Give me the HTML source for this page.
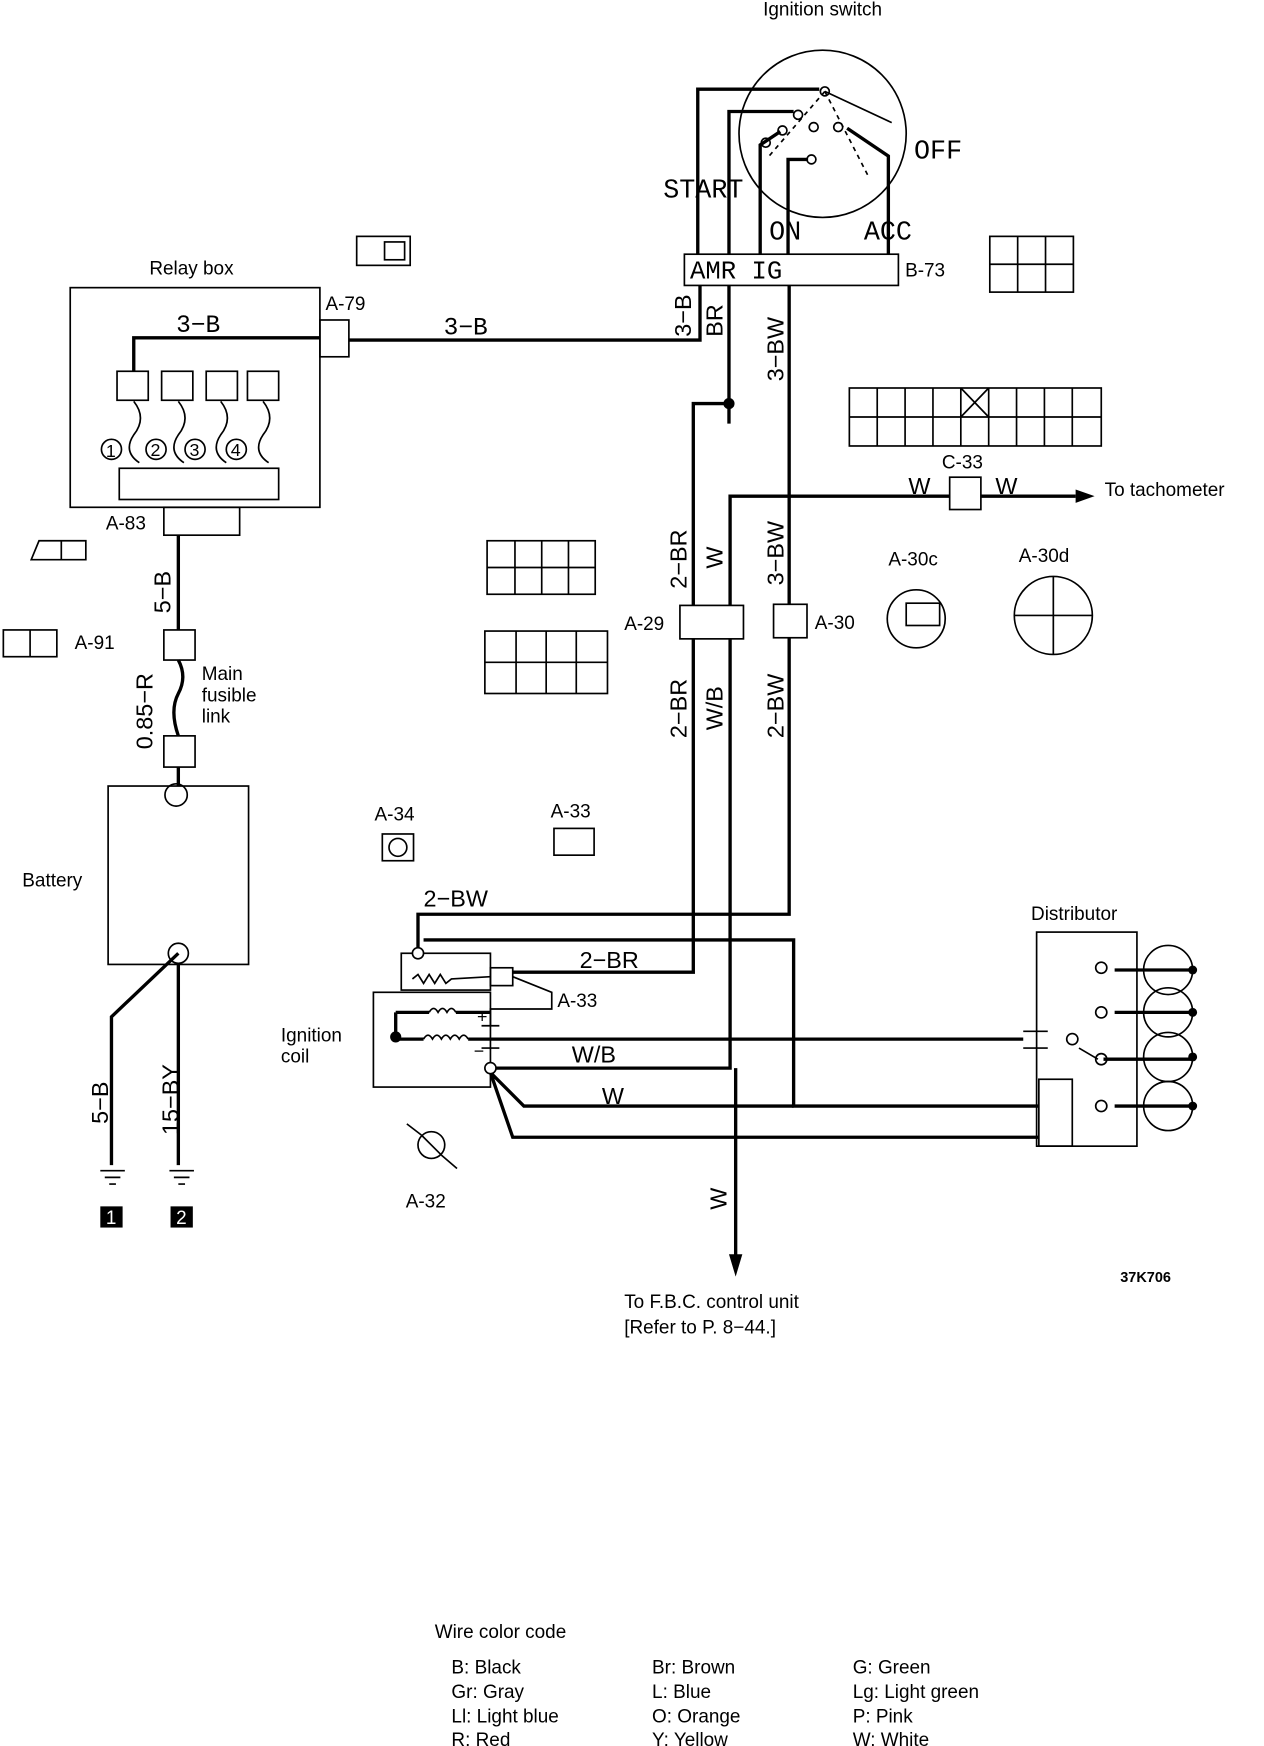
<!DOCTYPE html>
<html><head><meta charset="utf-8"><style>
html,body{margin:0;padding:0;background:#fff}
svg{display:block}
text{font-family:"Liberation Sans",sans-serif;fill:#000}
.m{font-family:"Liberation Mono",monospace}
</style></head><body>
<svg width="1264" height="1746" viewBox="0 0 1134 1566" preserveAspectRatio="none" xmlns="http://www.w3.org/2000/svg">
<g fill="none" stroke="#000" stroke-width="1.5">
<circle cx="738" cy="120" r="75"/>
<line x1="740" y1="82" x2="800" y2="110"/>
<line x1="740" y1="82" x2="780" y2="160" stroke-dasharray="4,4"/>
<line x1="740" y1="82" x2="690" y2="140" stroke-dasharray="4,4"/>
<circle cx="740" cy="82" r="4"/><circle cx="716" cy="103" r="4"/><circle cx="702" cy="117" r="4"/><circle cx="687" cy="128" r="4"/>
<circle cx="730" cy="114" r="4"/><circle cx="752" cy="114" r="4"/><circle cx="728" cy="143" r="4"/>
<rect x="614" y="228" width="192" height="28"/>
<rect x="888" y="212" width="75" height="50"/>
<line x1="913" y1="212" x2="913" y2="262"/><line x1="938" y1="212" x2="938" y2="262"/><line x1="888" y1="237" x2="963" y2="237"/>
<rect x="320" y="212" width="48" height="26"/><rect x="345" y="217" width="18" height="16"/>
<rect x="63" y="258" width="224" height="197"/>
<rect x="287" y="287" width="26" height="33"/>
<rect x="105" y="333" width="28" height="26"/><rect x="145" y="333" width="28" height="26"/><rect x="185" y="333" width="28" height="26"/><rect x="222" y="333" width="28" height="26"/>
<rect x="107" y="420" width="143" height="28"/>
<rect x="147" y="455" width="68" height="25"/>
<path d="M120 360 q12 15 0 30 q-10 15 5 25 M160 360 q12 15 0 30 q-10 15 5 25 M198 360 q12 15 0 30 q-10 15 5 25 M236 360 q12 15 0 30 q-10 15 5 25"/>
<circle cx="100" cy="403" r="9"/><circle cx="140" cy="403" r="9"/><circle cx="175" cy="403" r="9"/><circle cx="212" cy="403" r="9"/>
<path d="M28 502 L35 485 L77 485 L77 502 Z"/><line x1="55" y1="485" x2="55" y2="502"/>
<rect x="3" y="565" width="48" height="24"/><line x1="27" y1="565" x2="27" y2="589"/>
<rect x="147" y="565" width="28" height="27"/><rect x="147" y="660" width="28" height="28"/>
<path d="M160 592 q8 15 0 30 q-8 15 0 38" stroke-width="3"/>
<rect x="97" y="705" width="126" height="160"/>
<circle cx="158" cy="713" r="10"/><circle cx="160" cy="855" r="9"/>
<rect x="437" y="485" width="97" height="48"/><line x1="437" y1="509" x2="534" y2="509"/><line x1="462" y1="485" x2="462" y2="533"/><line x1="486" y1="485" x2="486" y2="533"/><line x1="510" y1="485" x2="510" y2="533"/>
<rect x="435" y="566" width="110" height="56"/><line x1="435" y1="594" x2="545" y2="594"/><line x1="463" y1="566" x2="463" y2="622"/><line x1="490" y1="566" x2="490" y2="622"/><line x1="517" y1="566" x2="517" y2="622"/>
<rect x="762" y="348" width="226" height="52"/><line x1="762" y1="374" x2="988" y2="374"/>
<line x1="787" y1="348" x2="787" y2="400"/><line x1="812" y1="348" x2="812" y2="400"/><line x1="837" y1="348" x2="837" y2="400"/><line x1="862" y1="348" x2="862" y2="400"/><line x1="887" y1="348" x2="887" y2="400"/><line x1="912" y1="348" x2="912" y2="400"/><line x1="937" y1="348" x2="937" y2="400"/><line x1="962" y1="348" x2="962" y2="400"/>
<line x1="862" y1="348" x2="887" y2="374"/><line x1="887" y1="348" x2="862" y2="374"/>
<circle cx="822" cy="555" r="26"/><rect x="813" y="541" width="30" height="20"/>
<circle cx="945" cy="552" r="35"/><line x1="910" y1="552" x2="980" y2="552"/><line x1="945" y1="517" x2="945" y2="587"/>
<rect x="343" y="748" width="28" height="24"/><circle cx="357" cy="760" r="8"/>
<rect x="497" y="743" width="36" height="24"/>
<circle cx="387" cy="1027" r="12"/><line x1="378" y1="1018" x2="396" y2="1036"/><line x1="365" y1="1008" x2="378" y2="1018"/><line x1="396" y1="1036" x2="410" y2="1048"/>
<rect x="335" y="890" width="105" height="85"/><rect x="360" y="855" width="80" height="33"/>
<rect x="440" y="868" width="20" height="16"/>
<path d="M370 878 l5 -4 l5 8 l5 -8 l5 8 l5 -8 l5 8 l5 -4 L440 876"/>
<path d="M385 908 q4 -7 8 0 q4 -7 8 0 q4 -7 8 0 M380 932 q4 -7 8 0 q4 -7 8 0 q4 -7 8 0 q4 -7 8 0 q4 -7 8 0"/>
<path d="M460 876 L495 890 L495 905 L440 905 L440 920"/>
<line x1="432" y1="920" x2="448" y2="920"/><line x1="432" y1="940" x2="448" y2="940"/>
<rect x="930" y="836" width="90" height="192"/>
<rect x="932" y="968" width="30" height="60"/>
<line x1="918" y1="925" x2="940" y2="925"/><line x1="918" y1="940" x2="940" y2="940"/>
<line x1="968" y1="940" x2="985" y2="950"/>
<circle cx="988" cy="868" r="5"/><circle cx="988" cy="908" r="5"/><circle cx="962" cy="932" r="5"/><circle cx="988" cy="950" r="5"/><circle cx="988" cy="992" r="5"/>
<circle cx="1048" cy="870" r="22"/><circle cx="1048" cy="908" r="22"/><circle cx="1048" cy="948" r="22"/><circle cx="1048" cy="992" r="22"/>
</g>
<g fill="none" stroke="#000" stroke-width="3">
<path d="M626 228 V80 H735"/><path d="M654 228 V100 H712"/><path d="M682 228 V130 L700 118"/><path d="M707 228 V143 H725"/><path d="M797 228 V140 L760 115"/>
<path d="M628 256 V305 H313"/><path d="M287 303 H120 V333"/>
<path d="M654 256 V380"/><path d="M654 362 H622 V543"/>
<path d="M708 256 V542"/><path d="M708 572 V820 H375 V850"/>
<path d="M655 543 V445 H852 M880 445 H965"/>
<rect x="852" y="428" width="28" height="29" stroke-width="1.5"/>
<rect x="610" y="543" width="57" height="30" stroke-width="1.5"/>
<rect x="694" y="542" width="30" height="30" stroke-width="1.5"/>
<path d="M622 573 V872 H460"/>
<path d="M655 573 V958 H445"/>
<path d="M380 843 H712 V992 H932"/>
<path d="M355 908 V932 M355 908 H385 M409 908 H440 M355 932 H380 M420 932 H918"/>
<path d="M440 962 L460 1020 H932 M440 962 L470 992 H712"/>
<path d="M660 958 V1135"/>
<path d="M160 480 V565 M160 688 V705"/>
<path d="M160 865 V1045 M160 855 L100 912 V1045"/>
<path d="M1000 870 H1070 M1000 908 H1070 M990 950 H1070 M1000 992 H1070"/>
</g>
<g fill="#000">
<circle cx="654" cy="362" r="5"/><circle cx="355" cy="930" r="5"/>
<circle cx="375" cy="855" r="5" fill="#fff" stroke="#000" stroke-width="1.5"/>
<circle cx="440" cy="958" r="5" fill="#fff" stroke="#000" stroke-width="1.5"/>
<path d="M965 439 L982 445 L965 451 Z"/><path d="M654 1125 L660 1145 L666 1125 Z"/>
<rect x="90" y="1082" width="20" height="19"/><rect x="153" y="1082" width="20" height="19"/>
<circle cx="1070" cy="870" r="4"/><circle cx="1070" cy="908" r="4"/><circle cx="1070" cy="948" r="4"/><circle cx="1070" cy="992" r="4"/>
</g>
<g stroke="#000" stroke-width="1.5">
<path d="M90 1050 H112 M94 1056 H108 M98 1062 H104 M152 1050 H174 M156 1056 H170 M160 1062 H166"/>
</g>
<text x="738" y="14" font-size="17" text-anchor="middle">Ignition switch</text>
<text class="m" x="820" y="142" font-size="24">OFF</text>
<text class="m" x="595" y="177" font-size="24">START</text>
<text class="m" x="690" y="215" font-size="24">ON</text>
<text class="m" x="775" y="215" font-size="24">ACC</text>
<text class="m" x="619" y="250" font-size="23">AMR  IG</text>
<text x="812" y="248" font-size="17">B-73</text>
<text x="134" y="246" font-size="17">Relay box</text>
<text x="292" y="278" font-size="17">A-79</text>
<text class="m" x="158" y="298" font-size="22">3−B</text>
<text class="m" x="398" y="300" font-size="22">3−B</text>
<g class="m" font-size="21">
<text transform="translate(620,302) rotate(-90)">3−B</text>
<text transform="translate(648,302) rotate(-90)">BR</text>
<text transform="translate(703,342) rotate(-90)">3−BW</text>
<text transform="translate(616,528) rotate(-90)">2−BR</text>
<text transform="translate(648,510) rotate(-90)">W</text>
<text transform="translate(703,525) rotate(-90)">3−BW</text>
<text transform="translate(616,662) rotate(-90)">2−BR</text>
<text transform="translate(648,655) rotate(-90)">W/B</text>
<text transform="translate(703,662) rotate(-90)">2−BW</text>
<text transform="translate(153,550) rotate(-90)">5−B</text>
<text transform="translate(137,672) rotate(-90)">0.85−R</text>
<text transform="translate(97,1008) rotate(-90)">5−B</text>
<text transform="translate(160,1018) rotate(-90)">15−BY</text>
<text transform="translate(652,1085) rotate(-90)">W</text>
<text x="815" y="443">W</text><text x="893" y="443">W</text>
<text x="380" y="813">2−BW</text><text x="520" y="868">2−BR</text>
<text x="513" y="953">W/B</text><text x="540" y="990">W</text>
</g>
<g font-size="17">
<text x="95" y="475">A-83</text><text x="67" y="582">A-91</text>
<text x="181" y="610">Main</text><text x="181" y="629">fusible</text><text x="181" y="648">link</text>
<text x="20" y="795">Battery</text>
<text x="845" y="420">C-33</text>
<text x="991" y="445">To tachometer</text>
<text x="797" y="507">A-30c</text><text x="914" y="504">A-30d</text>
<text x="560" y="565">A-29</text><text x="731" y="564">A-30</text>
<text x="336" y="736">A-34</text><text x="494" y="733">A-33</text>
<text x="925" y="825">Distributor</text>
<text x="500" y="903">A-33</text>
<text x="252" y="934">Ignition</text><text x="252" y="953">coil</text>
<text x="364" y="1083">A-32</text>
<text x="560" y="1173">To F.B.C. control unit</text>
<text x="560" y="1196">[Refer to  P. 8−44.]</text>
<text x="390" y="1469">Wire color code</text>
<text x="405" y="1501">B: Black</text><text x="405" y="1523">Gr: Gray</text><text x="405" y="1545">Ll: Light blue</text><text x="405" y="1566">R: Red</text>
<text x="585" y="1501">Br: Brown</text><text x="585" y="1523">L: Blue</text><text x="585" y="1545">O: Orange</text><text x="585" y="1566">Y: Yellow</text>
<text x="765" y="1501">G: Green</text><text x="765" y="1523">Lg: Light green</text><text x="765" y="1545">P: Pink</text><text x="765" y="1566">W: White</text>
</g>
<text x="1005" y="1150" font-size="13" font-weight="bold">37K706</text>
<g font-size="16"><text x="95" y="410">1</text><text x="135" y="409">2</text><text x="170" y="409">3</text><text x="207" y="409">4</text>
<text x="428" y="917">+</text><text x="425" y="948">−</text></g>
<g font-size="17"><text x="95" y="1098" style="fill:#fff">1</text><text x="158" y="1098" style="fill:#fff">2</text></g>
</svg>
</body></html>
